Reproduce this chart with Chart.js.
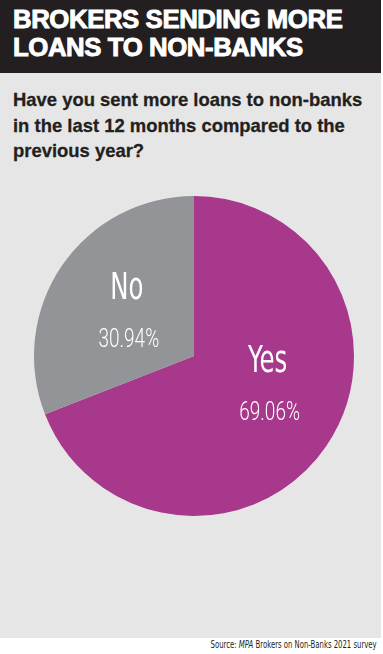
<!DOCTYPE html>
<html>
<head>
<meta charset="utf-8">
<script src="https://cdn.jsdelivr.net/npm/chart.js@4.4.1/dist/chart.umd.min.js"></script>
<style>
  html, body { margin:0; padding:0; background:#ffffff; }
  body { width:383px; height:654px; position:relative; overflow:hidden; font-family:"Liberation Sans", Arial, sans-serif; }
  #header { position:absolute; left:0; top:0; width:381px; height:73px; background:#231f20; }
  #title { position:absolute; left:13px; top:5px; color:#fff; font-weight:bold; font-size:25px; line-height:28px; letter-spacing:-0.4px; white-space:nowrap; -webkit-text-stroke:0.9px #fff; transform-origin:left top; transform:scaleX(1.03); }
  #panel { position:absolute; left:0; top:73px; width:381px; height:565px; background:#e6e6e6; }
  #question { position:absolute; left:13px; top:87px; color:#231f20; font-weight:bold; font-size:19px; line-height:25.5px; white-space:nowrap; -webkit-text-stroke:0.3px #231f20; transform-origin:left top; transform:scaleX(0.97); }
  #wrap { position:absolute; left:34px; top:196px; width:320px; height:320px; }
  #source { position:absolute; right:6px; top:639px; font-family:"DejaVu Sans", sans-serif; font-size:10px; color:#231f20; white-space:nowrap; transform-origin:right top; transform:scaleX(0.69); }
</style>
</head>
<body>
<div id="header"><div id="title">BROKERS SENDING MORE<br>LOANS TO NON-BANKS</div></div>
<div id="panel"></div>
<div id="question">Have you sent more loans to non-banks<br>in the last 12 months compared to the<br>previous year?</div>
<div id="wrap"><canvas id="c"></canvas></div>
<div id="source">Source: <i>MPA</i> Brokers on Non-Banks 2021 survey</div>
<script>
const categories = ["Yes", "No"];
const values = [69.06, 30.94];
const valueLabels = ["69.06%", "30.94%"];
const colors = ["#a8388c", "#929497"];
// label placement (fraction of radius) relative to pie center
const labelPos = [[0.46, 0.17], [-0.42, -0.29]];

const labelPlugin = {
  id: "sliceLabels",
  afterDatasetsDraw(chart) {
    const ctx = chart.ctx;
    const meta = chart.getDatasetMeta(0);
    meta.data.forEach((arc, i) => {
      const r = arc.outerRadius;
      const x = arc.x + labelPos[i][0] * r;
      const y = arc.y + labelPos[i][1] * r;
      ctx.save();
      ctx.fillStyle = "#ffffff";
      ctx.textAlign = "center";
      ctx.textBaseline = "alphabetic";
      ctx.save();
      ctx.translate(x, y - 11);
      ctx.scale(0.66, 1);
      ctx.font = '500 37px "DejaVu Sans", sans-serif';
      ctx.fillText(categories[i], 0, 0);
      ctx.restore();
      ctx.save();
      ctx.translate(x + 2, y + 37);
      ctx.scale(0.76, 1);
      ctx.font = '300 25px "Roboto", "DejaVu Sans", sans-serif';
      ctx.fillText(valueLabels[i], 0, 0);
      ctx.restore();
      ctx.restore();
    });
  }
};

new Chart(document.getElementById("c"), {
  type: "pie",
  data: {
    labels: categories,
    datasets: [{ data: values, backgroundColor: colors, borderWidth: 0 }]
  },
  options: {
    responsive: true,
    maintainAspectRatio: false,
    animation: false,
    layout: { padding: 0 },
    plugins: { legend: { display: false }, tooltip: { enabled: false } }
  },
  plugins: [labelPlugin]
});
</script>
</body>
</html>
